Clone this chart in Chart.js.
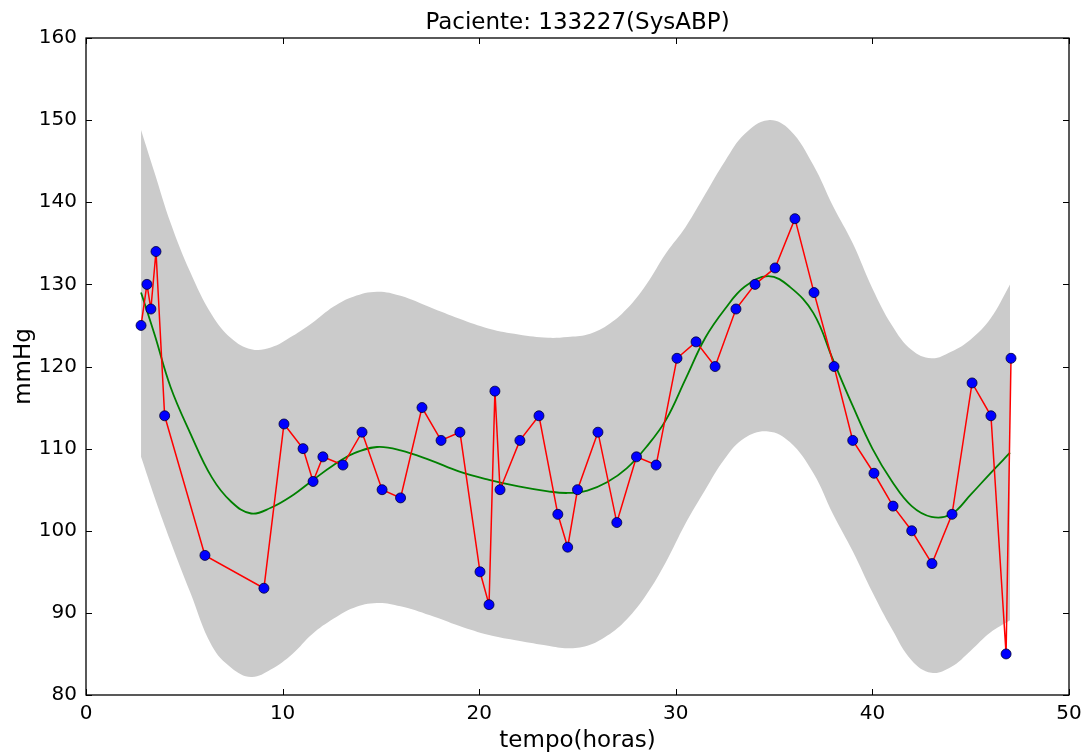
<!DOCTYPE html>
<html>
<head>
<meta charset="utf-8">
<script src="https://cdn.jsdelivr.net/npm/chart.js@4"></script>
<style>
  html, body { margin: 0; padding: 0; background: #fff; }
  #wrap { width: 1089px; height: 755px; }
</style>
</head>
<body>
<div id="wrap"><canvas id="sysChart" width="1089" height="755"></canvas></div>
<script>
// measured SysABP samples
const timeHours = [2.8, 3.1, 3.3, 3.56, 4.0, 6.05, 9.05, 10.07, 11.04, 11.55, 12.05, 13.07, 14.04, 15.06, 16.0, 17.09, 18.06, 19.02, 20.04, 20.5, 20.8, 21.06, 22.07, 23.04, 24.0, 24.5, 25.0, 26.04, 27.0, 28.0, 29.0, 30.06, 31.03, 32.0, 33.06, 34.03, 35.05, 36.06, 37.03, 38.05, 39.0, 40.08, 41.05, 42.0, 43.03, 44.05, 45.07, 46.03, 46.8, 47.05];
const sysABP = [125, 130, 127, 134, 114, 97, 93, 113, 110, 106, 109, 108, 112, 105, 104, 115, 111, 112, 95, 91, 117, 105, 111, 114, 102, 98, 105, 112, 101, 109, 108, 121, 123, 120, 127, 130, 132, 138, 129, 120, 111, 107, 103, 100, 96, 102, 118, 114, 85, 121];

// fitted curve and confidence band
const fitHours = [2.8, 3.5, 4.3, 5.3, 6.4, 7.4, 8.4, 9.4, 10.5, 11.5, 12.6, 13.6, 14.8, 16, 17.5, 19, 20.5, 22, 23.5, 24.5, 25.5, 26.5, 27.5, 28.5, 29.5, 30.5, 31.5, 32.5, 33.5, 34.7, 35.8, 37, 38, 39, 40, 41, 42, 43, 44, 45, 46, 47];
const fitMean = [129, 123.8, 117.5, 111.9, 106.5, 103.5, 102.1, 102.8, 104.3, 106.1, 108, 109.4, 110.2, 109.8, 108.6, 107.2, 106.2, 105.4, 104.8, 104.6, 104.9, 105.9, 107.6, 110.2, 113.5, 118.5, 123.5, 127, 129.7, 131, 129.7, 126.5, 120.8, 115.2, 110, 106, 103, 101.7, 102, 104.4, 107, 109.5];
const fitUpper = [148.8, 143.5, 137.5, 131.5, 126.3, 123.4, 122.1, 122.3, 123.7, 125.3, 127.3, 128.5, 129.1, 128.6, 127.2, 125.8, 124.6, 123.9, 123.5, 123.6, 123.9, 125, 127, 130, 133.8, 137, 141, 145, 148.3, 150, 148.8, 144.5, 139.5, 135, 129.5, 125, 122, 121, 121.8, 123.3, 125.8, 130];
const fitLower = [109, 104, 98.7, 92.5, 86, 83.3, 82.2, 83.1, 85, 87.4, 89.3, 90.6, 91.2, 90.8, 89.7, 88.4, 87.3, 86.6, 86, 85.7, 86, 87.2, 89.2, 92.2, 96.2, 100.9, 105, 108.8, 111.3, 112.1, 110.8, 107, 102, 97.5, 92.5, 88, 84.2, 82.7, 83.4, 85.4, 87.6, 89.1];

const xTicks = [0, 10, 20, 30, 40, 50];
const yTicks = [80, 90, 100, 110, 120, 130, 140, 150, 160];

const pairs = (xs, ys) => xs.map((x, i) => ({ x: x, y: ys[i] }));
const FONT = 'DejaVu Sans';

// matplotlib-style box with inward ticks
const boxTicks = {
    id: 'boxTicks',
    afterDraw(chart) {
        const { ctx, chartArea: a, scales } = chart;
        ctx.save();
        ctx.strokeStyle = '#000';
        ctx.lineWidth = 1;
        ctx.beginPath();
        xTicks.forEach(v => {
            const px = Math.round(scales.x.getPixelForValue(v)) + 0.5;
            ctx.moveTo(px, a.bottom); ctx.lineTo(px, a.bottom - 6);
            ctx.moveTo(px, a.top); ctx.lineTo(px, a.top + 6);
        });
        yTicks.forEach(v => {
            const py = Math.round(scales.y.getPixelForValue(v)) + 0.5;
            ctx.moveTo(a.left, py); ctx.lineTo(a.left + 6, py);
            ctx.moveTo(a.right, py); ctx.lineTo(a.right - 6, py);
        });
        ctx.stroke();
        ctx.lineWidth = 1.3;
        ctx.strokeRect(a.left, a.top, a.right - a.left, a.bottom - a.top);
        ctx.restore();
    }
};

new Chart(document.getElementById('sysChart').getContext('2d'), {
    type: 'line',
    data: {
        datasets: [{
            data: pairs(timeHours, sysABP),
            showLine: false,
            pointRadius: 5,
            pointBackgroundColor: '#0000ff',
            pointBorderColor: '#000033',
            pointBorderWidth: 0.8,
            order: 0
        }, {
            data: pairs(timeHours, sysABP),
            borderColor: '#ff0000',
            borderWidth: 1.5,
            pointRadius: 0,
            tension: 0,
            order: 1
        }, {
            data: pairs(fitHours, fitMean),
            borderColor: '#008000',
            borderWidth: 1.8,
            pointRadius: 0,
            tension: 0.4,
            order: 2
        }, {
            data: pairs(fitHours, fitUpper),
            borderWidth: 0,
            pointRadius: 0,
            tension: 0.4,
            backgroundColor: '#cbcbcb',
            fill: '+1',
            order: 3
        }, {
            data: pairs(fitHours, fitLower),
            borderWidth: 0,
            pointRadius: 0,
            tension: 0.4,
            fill: false,
            order: 4
        }]
    },
    options: {
        responsive: false,
        animation: false,
        layout: { padding: { left: 0, right: 20, top: 0, bottom: 0 } },
        scales: {
            x: {
                type: 'linear',
                min: 0, max: 50,
                afterFit: s => { s.height = 60; },
                afterBuildTicks: s => { s.ticks = xTicks.map(v => ({ value: v })); },
                grid: { display: false, drawTicks: false },
                border: { display: false },
                ticks: { color: '#000', font: { family: FONT, size: 20 }, padding: 7, maxRotation: 0 },
                title: { display: true, text: 'tempo(horas)', color: '#000', font: { family: FONT, size: 23 }, padding: { top: 0, bottom: 0 } }
            },
            y: {
                min: 80, max: 160,
                afterFit: s => { s.width = 86; },
                afterBuildTicks: s => { s.ticks = yTicks.map(v => ({ value: v })); },
                grid: { display: false, drawTicks: false },
                border: { display: false },
                ticks: { color: '#000', font: { family: FONT, size: 20 }, padding: 9 },
                title: { display: true, text: 'mmHg', color: '#000', font: { family: FONT, size: 23 }, padding: { top: 10, bottom: 0 } }
            }
        },
        plugins: {
            legend: { display: false },
            tooltip: { enabled: false },
            title: {
                display: true,
                fullSize: false,
                text: 'Paciente: 133227(SysABP)',
                color: '#000',
                font: { family: FONT, size: 23, weight: 'normal' },
                padding: { top: 9, bottom: 1.4 }
            }
        }
    },
    plugins: [boxTicks]
});
</script>
</body>
</html>
